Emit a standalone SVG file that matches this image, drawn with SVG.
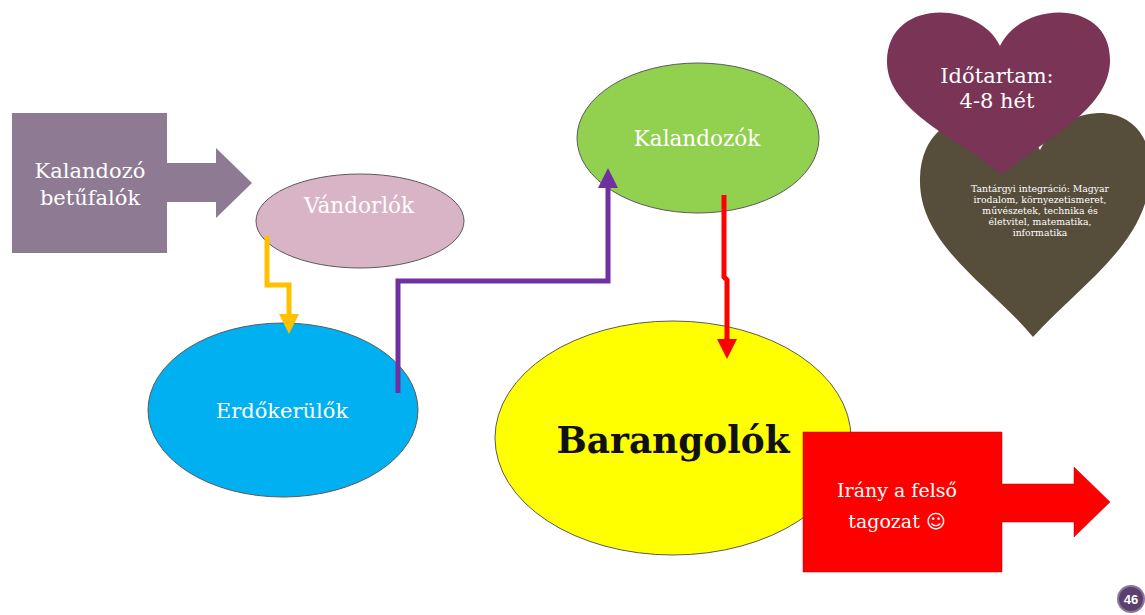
<svg xmlns="http://www.w3.org/2000/svg" width="1145" height="615" viewBox="0 0 1145 615">
<style>
.lbl{font-family:"DejaVu Serif","Liberation Serif",serif;fill:#ffffff;text-anchor:middle}
.ell{stroke:#5a5a5a;stroke-width:1}
.conn{fill:none;stroke-width:5;stroke-linejoin:miter}
</style>
<defs>
<marker id="mY" markerWidth="4" markerHeight="4" refX="2" refY="2" orient="auto" markerUnits="strokeWidth"><path d="M0,0 L4,2 L0,4 Z" fill="#ffc000"/></marker>
<marker id="mP" markerWidth="4" markerHeight="4" refX="2" refY="2" orient="auto" markerUnits="strokeWidth"><path d="M0,0 L4,2 L0,4 Z" fill="#7030a0"/></marker>
<marker id="mR" markerWidth="4" markerHeight="4" refX="2" refY="2" orient="auto" markerUnits="strokeWidth"><path d="M0,0 L4,2 L0,4 Z" fill="#ff0000"/></marker>
</defs>
<rect width="1145" height="615" fill="#ffffff"/>

<g id="kalandozo-betufalok">
<path d="M12,113 H167 V163 H216 V148 L252,183 L216,218 V202 H167 V253 H12 Z" fill="#8e7a92"/>
<text class="lbl" x="90" y="178" font-size="21">Kalandozó</text>
<text class="lbl" x="90" y="205" font-size="21">betűfalók</text>
</g>

<g id="vandorlok">
<ellipse class="ell" cx="360" cy="221" rx="104" ry="47" fill="#d9b3c6"/>
<text class="lbl" x="359" y="213" font-size="21.5">Vándorlók</text>
</g>

<g id="erdokerulok">
<ellipse class="ell" cx="283" cy="410" rx="135" ry="87" fill="#00b0f0"/>
<text class="lbl" x="282" y="418" font-size="21">Erdőkerülők</text>
</g>

<g id="kalandozok">
<ellipse class="ell" cx="698" cy="138" rx="121" ry="75" fill="#92d050"/>
<text class="lbl" x="697" y="146" font-size="21.5">Kalandozók</text>
</g>

<g id="barangolok">
<ellipse class="ell" cx="673" cy="438" rx="178" ry="117" fill="#ffff00"/>
<text x="673" y="453" font-size="38" font-weight="bold" text-anchor="middle" textLength="233" lengthAdjust="spacingAndGlyphs" font-family="DejaVu Serif,Liberation Serif,serif" fill="#111111">Barangolók</text>
</g>

<g id="irany-felso-tagozat">
<path d="M803,432 H1002 V484 H1074 V467 L1110,502 L1074,537 V522 H1002 V572 H803 Z" fill="#ff0000" stroke="#b00000" stroke-width="0.5"/>
<text class="lbl" x="897" y="497" font-size="19">Irány a felső</text>
<text class="lbl" x="897" y="528" font-size="19">tagozat <tspan font-family="DejaVu Sans,sans-serif">☺</tspan></text>
</g>

<g id="tantargyi-integracio">
<path d="M1040,150 C1065,98 1157,95 1150,178 C1145,245 1080,285 1033,337 C990,285 918,245 920,178 C922,100 1015,100 1040,150 Z" fill="#574d3b"/>
<g class="lbl" font-size="9.3">
<text x="1040" y="192">Tantárgyi integráció: Magyar</text>
<text x="1040" y="203">irodalom, környezetismeret,</text>
<text x="1040" y="214">művészetek, technika és</text>
<text x="1040" y="225">életvitel, matematika,</text>
<text x="1040" y="236">informatika</text>
</g>
</g>

<g id="idotartam">
<path d="M1000,46 C1022,0 1112,-2 1110,62 C1108,112 1042,140 1002,175 C962,140 887,112 887,62 C887,-2 978,0 1000,46 Z" fill="#7a3455"/>
<text class="lbl" x="997" y="83" font-size="21">Időtartam:</text>
<text class="lbl" x="997" y="108" font-size="21">4-8 hét</text>
</g>

<g id="connectors">
<path class="conn" stroke="#ffc000" stroke-width="4" d="M267,236 V285 H289 V324" marker-end="url(#mY)"/>
<path class="conn" stroke="#7030a0" d="M398,393 V281 H608 V178" marker-end="url(#mP)"/>
<path class="conn" stroke="#ff0000" d="M724,195 V277 L727,280 V349" marker-end="url(#mR)"/>
</g>

<g id="page-number">
<circle cx="1131" cy="599" r="14" fill="#8a7a96"/>
<circle cx="1131" cy="599" r="12" fill="#5b3f6e"/>
<text x="1131" y="604" font-size="13" font-weight="bold" text-anchor="middle" font-family="Liberation Sans,Arial,sans-serif" fill="#ffffff">46</text>
</g>
</svg>
